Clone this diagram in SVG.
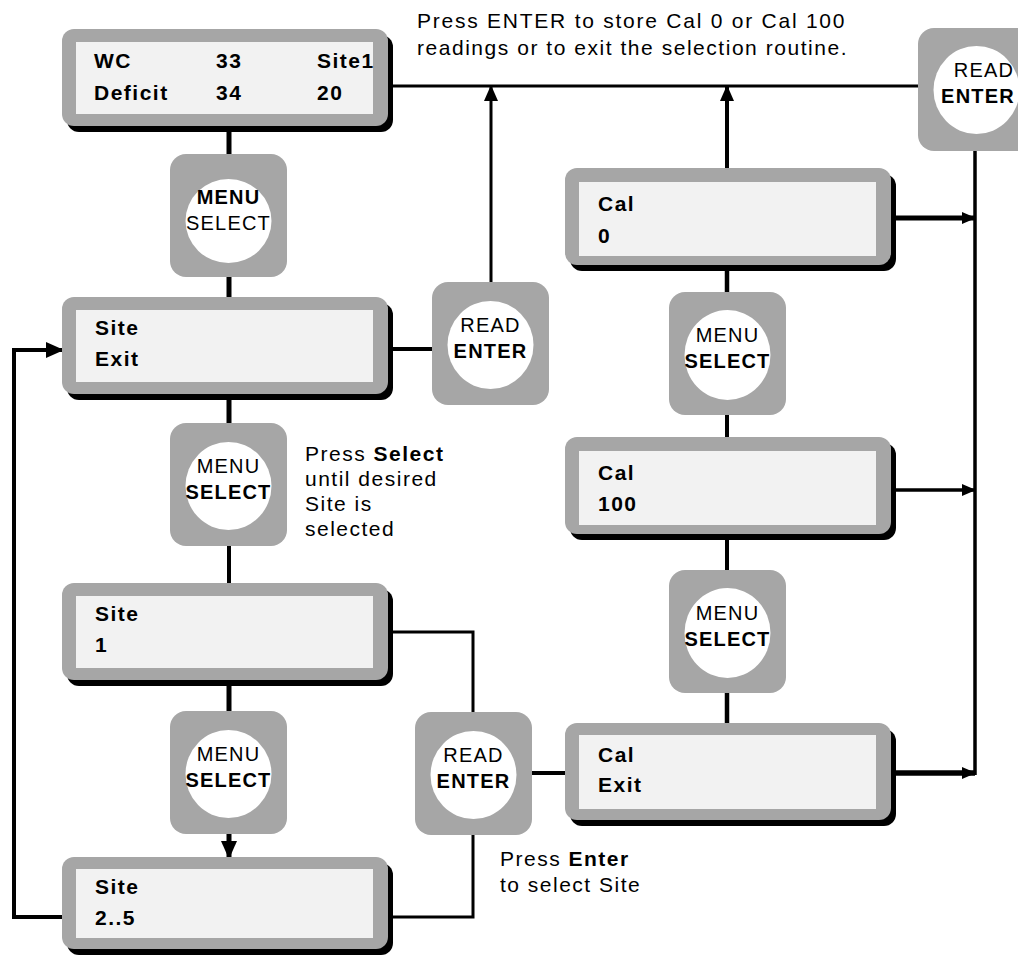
<svg xmlns="http://www.w3.org/2000/svg" width="1018" height="968" viewBox="0 0 1018 968">
<style>
text{font-family:"Liberation Sans",Arial,sans-serif;fill:#000}
.bt{font-size:21px;font-weight:bold;letter-spacing:1.5px}
.an{font-size:21px;letter-spacing:1.5px}
.kb{font-size:20px;letter-spacing:1.2px;text-anchor:middle}
.b{font-weight:bold}
.sh{fill:#000}
.gr{fill:#a6a6a6}
.in{fill:#f2f2f2}
.ci{fill:#fff}
.ln{stroke:#000;fill:none;stroke-linejoin:miter}
</style>
<defs>
<marker id="ab" markerUnits="userSpaceOnUse" markerWidth="18" markerHeight="16" refX="17" refY="8" orient="auto"><path d="M0,0 L18,8 L0,16 z" fill="#000"/></marker>
<marker id="as" markerUnits="userSpaceOnUse" markerWidth="14" markerHeight="12" refX="13" refY="6" orient="auto"><path d="M0,0 L14,6 L0,12 z" fill="#000"/></marker>
<marker id="am" markerUnits="userSpaceOnUse" markerWidth="16" markerHeight="14" refX="15" refY="7" orient="auto"><path d="M0,0 L16,7 L0,14 z" fill="#000"/></marker>
</defs>
<rect width="1018" height="968" fill="#fff"/>
<g id="connectors">
<line class="ln" x1="229" y1="127" x2="229" y2="156" stroke-width="5"/>
<line class="ln" x1="229" y1="275" x2="229" y2="299" stroke-width="5"/>
<line class="ln" x1="229" y1="392" x2="229" y2="425" stroke-width="5"/>
<line class="ln" x1="229" y1="545" x2="229" y2="585" stroke-width="4"/>
<line class="ln" x1="229" y1="680" x2="229" y2="713" stroke-width="5"/>
<line class="ln" x1="229" y1="832" x2="229" y2="858" stroke-width="5" marker-end="url(#ab)"/>
<polyline class="ln" points="64,917 14,917 14,350 63,350" stroke-width="4" marker-end="url(#ab)"/>
<line class="ln" x1="388" y1="349" x2="434" y2="349" stroke-width="4"/>
<line class="ln" x1="491" y1="284" x2="491" y2="86" stroke-width="3" marker-end="url(#am)"/>
<line class="ln" x1="388" y1="86" x2="920" y2="86" stroke-width="3"/>
<line class="ln" x1="727" y1="170" x2="727" y2="86" stroke-width="4" marker-end="url(#am)"/>
<line class="ln" x1="975" y1="148" x2="975" y2="775" stroke-width="3.5"/>
<line class="ln" x1="891" y1="218" x2="975" y2="218" stroke-width="5" marker-end="url(#as)"/>
<line class="ln" x1="891" y1="490" x2="975" y2="490" stroke-width="3.5" marker-end="url(#as)"/>
<line class="ln" x1="891" y1="773" x2="975" y2="773" stroke-width="5.5" marker-end="url(#as)"/>
<line class="ln" x1="727" y1="265" x2="727" y2="294" stroke-width="4.5"/>
<line class="ln" x1="727" y1="413" x2="727" y2="439" stroke-width="4"/>
<line class="ln" x1="727" y1="533" x2="727" y2="572" stroke-width="4"/>
<line class="ln" x1="727" y1="691" x2="727" y2="725" stroke-width="4.5"/>
<polyline class="ln" points="388,632 473,632 473,714" stroke-width="3"/>
<polyline class="ln" points="473,833 473,917 388,917" stroke-width="3"/>
<line class="ln" x1="530" y1="773" x2="567" y2="773" stroke-width="4"/>
</g>
<g id="box-wc">
<rect class="sh" x="67" y="35" width="326" height="97" rx="12"/>
<rect class="gr" x="62" y="29" width="326" height="97" rx="12"/>
<rect class="in" x="76" y="42" width="297" height="72"/>
<text class="bt" x="94" y="68">WC</text>
<text class="bt" x="216" y="68">33</text>
<text class="bt" x="317" y="68">Site1</text>
<text class="bt" x="94" y="100">Deficit</text>
<text class="bt" x="216" y="100">34</text>
<text class="bt" x="317" y="100">20</text>
</g>
<g id="box-site-exit">
<rect class="sh" x="67" y="303" width="326" height="97" rx="12"/>
<rect class="gr" x="62" y="297" width="326" height="97" rx="12"/>
<rect class="in" x="76" y="310" width="297" height="72"/>
<text class="bt" x="95" y="335">Site</text>
<text class="bt" x="95" y="366">Exit</text>
</g>
<g id="box-site-1">
<rect class="sh" x="67" y="589" width="326" height="97" rx="12"/>
<rect class="gr" x="62" y="583" width="326" height="97" rx="12"/>
<rect class="in" x="76" y="596" width="297" height="72"/>
<text class="bt" x="95" y="621">Site</text>
<text class="bt" x="95" y="652">1</text>
</g>
<g id="box-site-2-5">
<rect class="sh" x="67" y="863" width="326" height="92" rx="12"/>
<rect class="gr" x="62" y="857" width="326" height="92" rx="12"/>
<rect class="in" x="76" y="869" width="297" height="69"/>
<text class="bt" x="95" y="894">Site</text>
<text class="bt" x="95" y="925">2..5</text>
</g>
<g id="box-cal-0">
<rect class="sh" x="570" y="174" width="326" height="97" rx="12"/>
<rect class="gr" x="565" y="168" width="326" height="97" rx="12"/>
<rect class="in" x="579" y="182" width="297" height="74"/>
<text class="bt" x="598" y="211">Cal</text>
<text class="bt" x="598" y="243">0</text>
</g>
<g id="box-cal-100">
<rect class="sh" x="570" y="443" width="326" height="97" rx="12"/>
<rect class="gr" x="565" y="437" width="326" height="97" rx="12"/>
<rect class="in" x="579" y="451" width="297" height="74"/>
<text class="bt" x="598" y="480">Cal</text>
<text class="bt" x="598" y="511">100</text>
</g>
<g id="box-cal-exit">
<rect class="sh" x="570" y="729" width="326" height="97" rx="12"/>
<rect class="gr" x="565" y="723" width="326" height="97" rx="12"/>
<rect class="in" x="579" y="735" width="297" height="74"/>
<text class="bt" x="598" y="762">Cal</text>
<text class="bt" x="598" y="792">Exit</text>
</g>
<g id="btn-menu-1">
<rect class="gr" x="170" y="154" width="117" height="123" rx="16"/>
<ellipse class="ci" cx="228.5" cy="221" rx="43" ry="42"/>
<text class="kb b" x="228.5" y="204">MENU</text>
<text class="kb" x="228.5" y="230">SELECT</text>
</g>
<g id="btn-menu-2">
<rect class="gr" x="170" y="423" width="117" height="123" rx="16"/>
<ellipse class="ci" cx="228.5" cy="486" rx="43" ry="44"/>
<text class="kb" x="228.5" y="473">MENU</text>
<text class="kb b" x="228.5" y="499">SELECT</text>
</g>
<g id="btn-menu-3">
<rect class="gr" x="170" y="711" width="117" height="123" rx="16"/>
<ellipse class="ci" cx="228.5" cy="774" rx="43" ry="44"/>
<text class="kb" x="228.5" y="761">MENU</text>
<text class="kb b" x="228.5" y="787">SELECT</text>
</g>
<g id="btn-menu-4">
<rect class="gr" x="669" y="292" width="117" height="123" rx="16"/>
<ellipse class="ci" cx="727.5" cy="355" rx="43" ry="45"/>
<text class="kb" x="727.5" y="342">MENU</text>
<text class="kb b" x="727.5" y="368">SELECT</text>
</g>
<g id="btn-menu-5">
<rect class="gr" x="669" y="570" width="117" height="123" rx="16"/>
<ellipse class="ci" cx="727.5" cy="633" rx="43" ry="45"/>
<text class="kb" x="727.5" y="620">MENU</text>
<text class="kb b" x="727.5" y="646">SELECT</text>
</g>
<g id="btn-read-1">
<rect class="gr" x="432" y="282" width="117" height="123" rx="16"/>
<ellipse class="ci" cx="490.5" cy="345" rx="43" ry="44"/>
<text class="kb" x="490.5" y="332">READ</text>
<text class="kb b" x="490.5" y="358">ENTER</text>
</g>
<g id="btn-read-2">
<rect class="gr" x="415" y="712" width="117" height="123" rx="16"/>
<ellipse class="ci" cx="473.5" cy="775" rx="43" ry="44"/>
<text class="kb" x="473.5" y="762">READ</text>
<text class="kb b" x="473.5" y="788">ENTER</text>
</g>
<g id="btn-read-3">
<rect class="gr" x="918" y="28" width="117" height="123" rx="16"/>
<ellipse class="ci" cx="976.5" cy="90" rx="43" ry="44"/>
<text class="kb" x="984" y="77">READ</text>
<text class="kb b" x="978" y="103">ENTER</text>
</g>
<g id="notes">
<text class="an" x="417" y="28" textLength="429" lengthAdjust="spacing">Press ENTER to store Cal 0 or Cal 100</text>
<text class="an" x="417" y="55" textLength="431" lengthAdjust="spacing">readings or to exit the selection routine.</text>
<text class="an" x="305" y="461">Press <tspan class="b">Select</tspan></text>
<text class="an" x="305" y="486">until desired</text>
<text class="an" x="305" y="511">Site is</text>
<text class="an" x="305" y="536">selected</text>
<text class="an" x="500" y="866">Press <tspan class="b">Enter</tspan></text>
<text class="an" x="500" y="892">to select Site</text>
</g>
</svg>
